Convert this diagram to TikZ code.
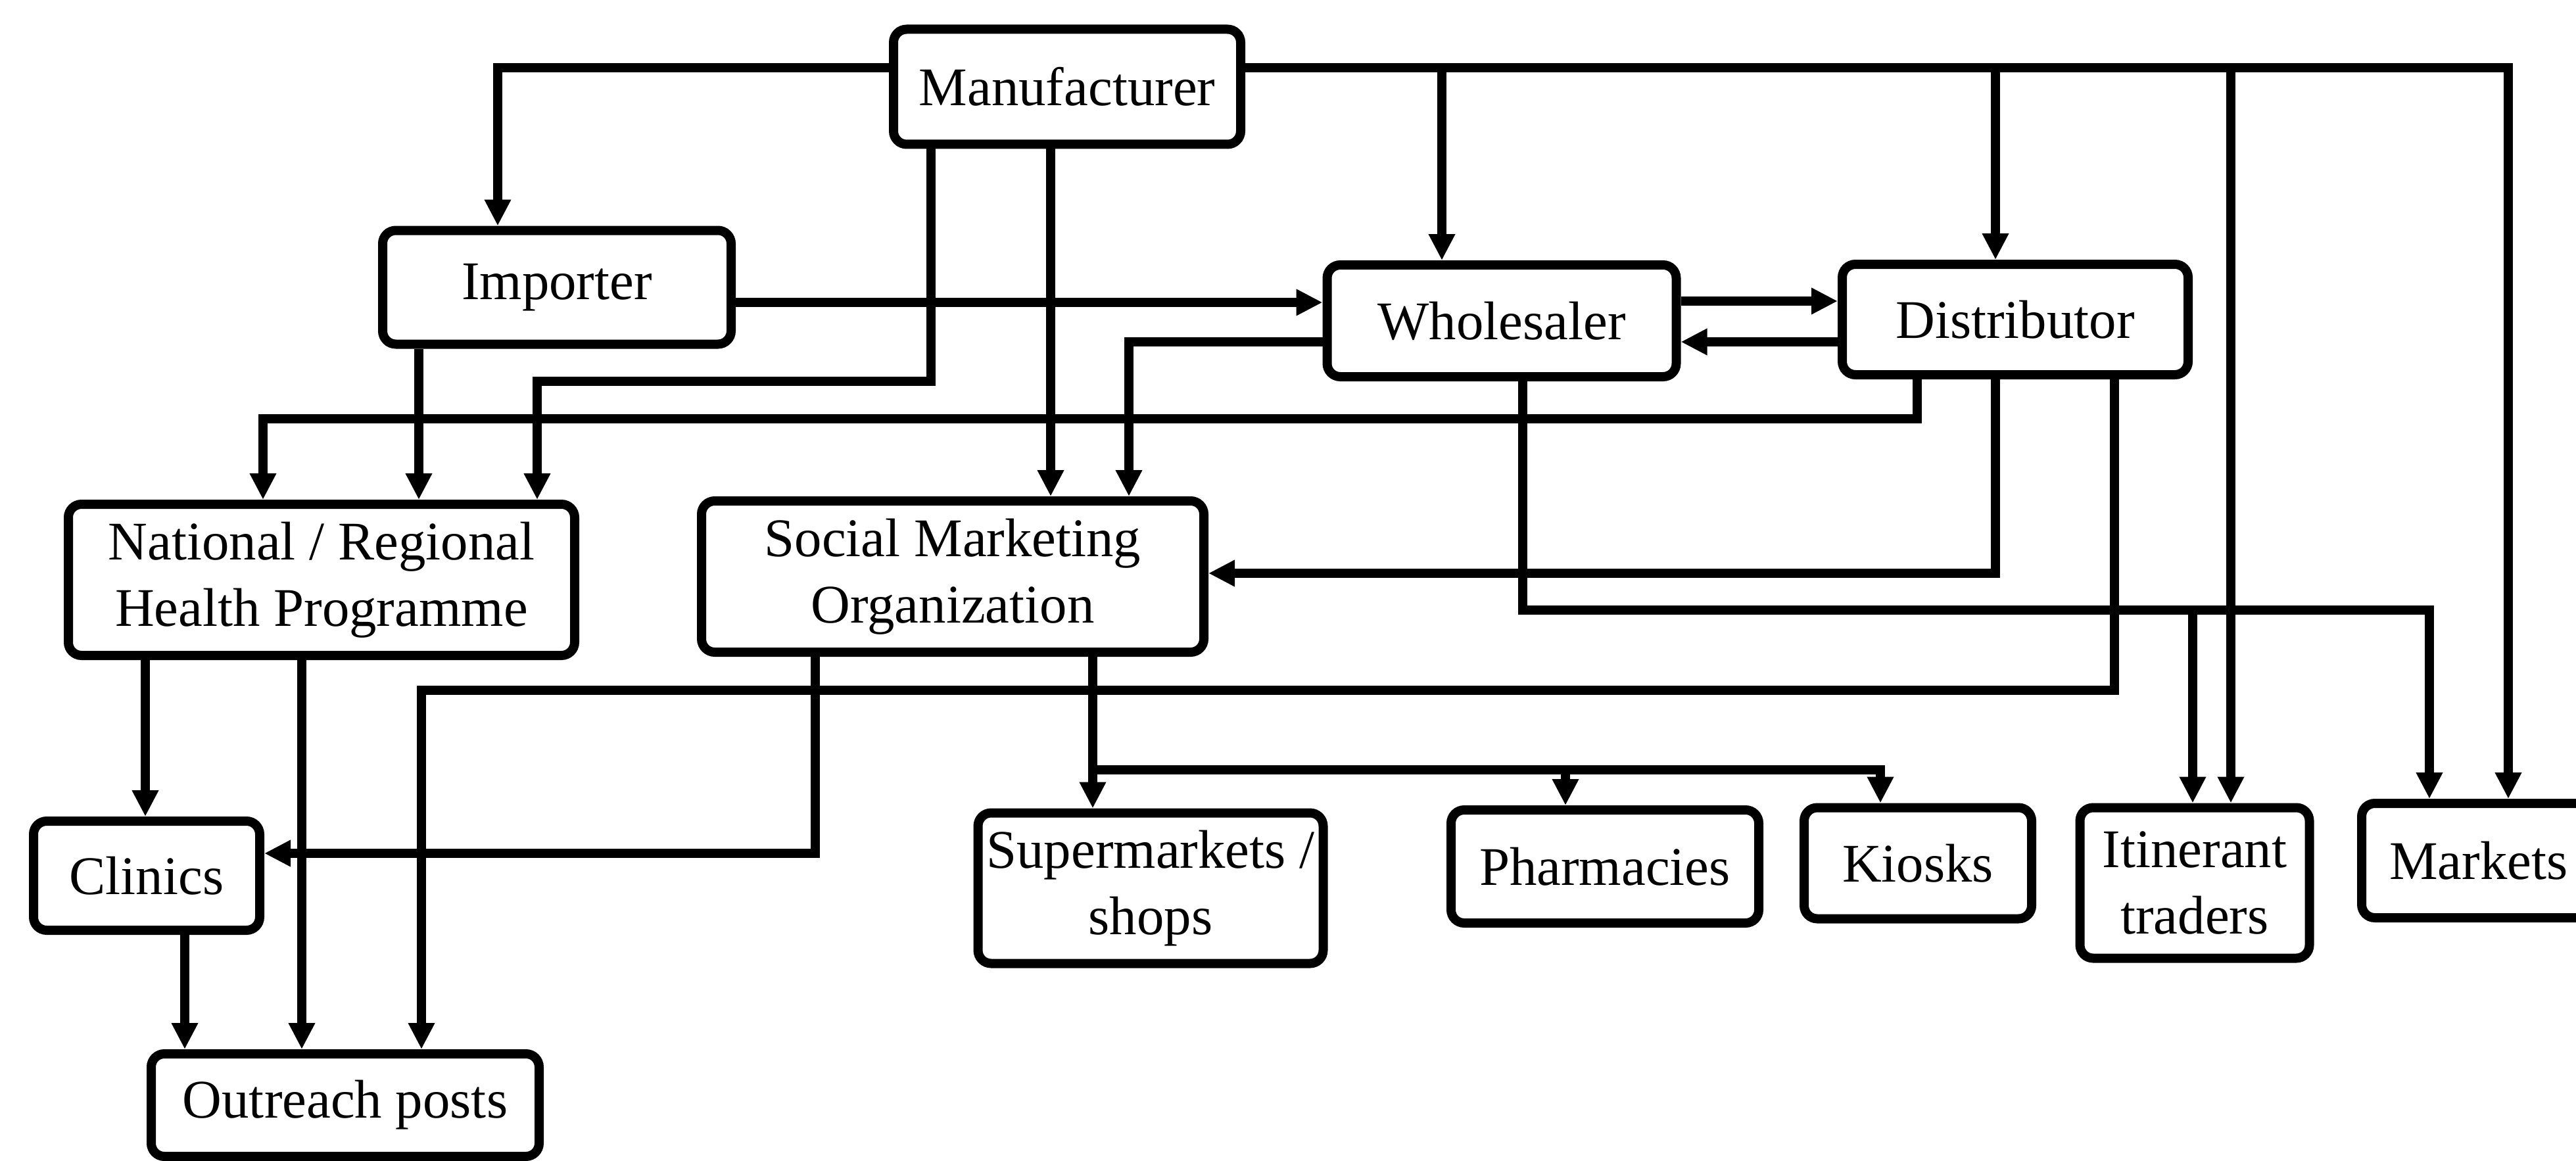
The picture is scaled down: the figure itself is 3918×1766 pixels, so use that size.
\documentclass[tikz,border=0pt]{standalone}
\usepackage{fontspec}
\setmainfont{Liberation Serif}
\usetikzlibrary{arrows.meta}
\begin{document}
\begin{tikzpicture}[x=0.25pt,y=-0.25pt,
  box/.style={draw, line width=3.5pt, rounded corners=5pt, align=center,
    inner sep=0pt, font=\fontsize{20.7}{25.3}\selectfont},
  sz/.style 2 args={minimum width=#1*0.25pt, minimum height=#2*0.25pt},
  arr/.style={line width=3.5pt, -{Triangle[length=10pt,width=9.5pt]}}]
\useasboundingbox (0,0) rectangle (3918,1766);

% boxes
\node[box, sz={528}{175}] (man)   at (1623,132)  {Manufacturer};
\node[box, sz={530}{173}] (imp)   at (847,437)   {Importer};
\node[box, sz={531}{170}] (whole) at (2284,488)  {Wholesaler};
\node[box, sz={526}{168}] (dist)  at (3065,486)  {Distributor};
\node[box, sz={770}{230}] (nrhp)  at (489,882)   {National / Regional\\Health Programme};
\node[box, sz={764}{230}] (smo)   at (1449,877)  {Social Marketing\\Organization};
\node[box, sz={344}{166}] (clin)  at (223,1332)  {Clinics};
\node[box, sz={590}{156}] (out)   at (525,1681)  {Outreach posts};
\node[box, sz={525}{229}] (sup)   at (1750,1351) {Supermarkets /\\shops};
\node[box, sz={468}{172}] (pha)   at (2441,1318) {Pharmacies};
\node[box, sz={346}{169}] (kio)   at (2917,1313) {Kiosks};
\node[box, sz={349}{229}] (itin)  at (3338,1343) {Itinerant\\traders};
\node[box, sz={356}{174}] (mark)  at (3770,1309) {Markets};

% bend and branch points
\coordinate (mL)  at (757,103);
\coordinate (jW)  at (2193,103);
\coordinate (jD)  at (3035,103);
\coordinate (jI)  at (3393,103);
\coordinate (jM)  at (3815,103);
\coordinate (mN)  at (817,580);
\coordinate (dN)  at (400,637);
\coordinate (dO)  at (641,1050);
\coordinate (wM)  at (3695,928);
\coordinate (wI)  at (3335,928);
\coordinate (sS)  at (1662,1171);
\coordinate (sK)  at (2860,1171);
\coordinate (sP)  at (2381,1171);

% from the manufacturer
\draw[arr] (man.west |- mL) -| (imp.north -| mL);
\draw[arr] (man.east |- jM) -| (mark.north -| jM);
\draw[arr] (jW) -- (whole.north -| jW);
\draw[arr] (jD) -- (dist.north -| jD);
\draw[arr] (jI) -- (itin.north -| jI);
\draw[arr] (man.south -| 1598,0) -- (smo.north -| 1598,0);
\draw[arr] (man.south -| 1416,0) |- (mN) -- (nrhp.north -| mN);

% from the importer
\draw[arr] (imp.south -| 637,0) -- (nrhp.north -| 637,0);
\draw[arr] (imp.east |- 0,460) -- (whole.west |- 0,460);

% wholesaler and distributor
\draw[arr] (whole.west |- 0,520) -| (smo.north -| 1717,0);
\draw[arr] (whole.east |- 0,458) -- (dist.west |- 0,458);
\draw[arr] (dist.west |- 0,520) -- (whole.east |- 0,520);
\draw[arr] (dist.south -| 2916,0) |- (dN) -- (nrhp.north -| dN);
\draw[arr] (dist.south -| jD) |- (smo.east |- 0,872);
\draw[arr] (dist.south -| 3216,0) |- (dO) -- (out.north -| dO);
\draw[arr] (whole.south -| 2316,0) |- (wM) -- (mark.north -| wM);
\draw[arr] (wI) -- (itin.north -| wI);

% from the social marketing organization
\draw[arr] (smo.south -| 1240,0) |- (clin.east |- 0,1298);
\draw[arr] (smo.south -| sS) -- (sup.north -| sS);
\draw[arr] (sS) -| (kio.north -| sK);
\draw[arr] (sP) -- (pha.north -| sP);

% from the health programme and clinics
\draw[arr] (nrhp.south -| 221,0) -- (clin.north -| 221,0);
\draw[arr] (nrhp.south -| 459,0) -- (out.north -| 459,0);
\draw[arr] (clin.south -| 281,0) -- (out.north -| 281,0);
\end{tikzpicture}
\end{document}
